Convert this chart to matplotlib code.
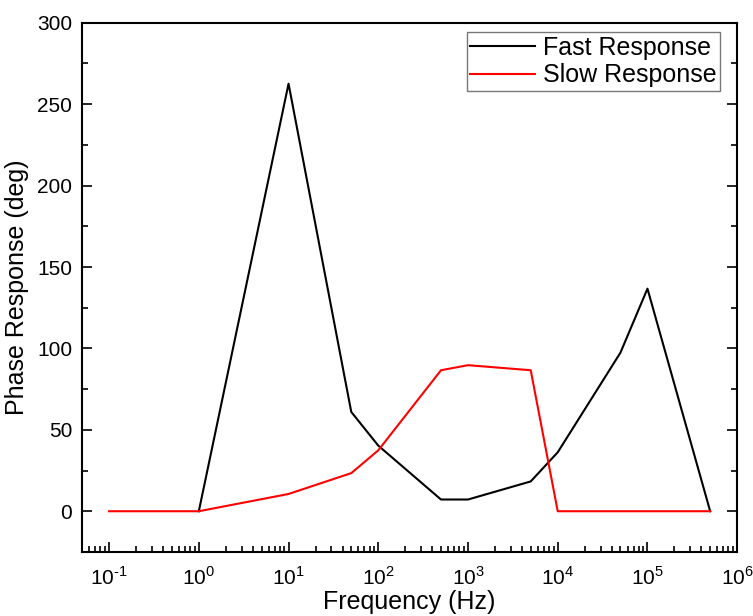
import matplotlib
matplotlib.use("Agg")
import matplotlib.pyplot as plt
from matplotlib.ticker import LogLocator, NullFormatter, MultipleLocator

plt.rcParams['font.family'] = ['Liberation Sans', 'DejaVu Sans']
plt.rcParams['mathtext.fontset'] = 'custom'
plt.rcParams['mathtext.rm'] = 'Liberation Sans'
plt.rcParams['axes.unicode_minus'] = False

fast_freq = [1, 10, 50, 100, 500, 1000, 5000, 1e4, 5e4, 1e5, 5e5]
fast_phase = [0, 262.6, 61, 40.3, 7.2, 7.2, 18.3, 36.2, 97.4, 136.7, 0]

slow_freq = [0.1, 1, 10, 50, 100, 500, 1000, 5000, 1e4, 5e4, 1e5, 5e5]
slow_phase = [0, 0, 10.6, 23.4, 37.4, 86.6, 89.7, 86.6, 0, 0, 0, 0]

x_major = [1e-1, 1e0, 1e1, 1e2, 1e3, 1e4, 1e5, 1e6]
x_labels = ['$10^{\\text{-}1}$', '$10^{0}$', '$10^{1}$', '$10^{2}$', '$10^{3}$',
            '$10^{4}$', '$10^{5}$', '$10^{6}$']

fig = plt.figure(figsize=(7.53, 6.16), dpi=100)
ax = fig.add_axes([0.109, 0.104, 0.870, 0.859])

ax.plot(fast_freq, fast_phase, color='black', lw=1.5, label='Fast Response')
ax.plot(slow_freq, slow_phase, color='red', lw=1.5, label='Slow Response')

ax.set_xscale('log')
ax.set_xlim(0.05, 1e6)
ax.set_ylim(-25, 300)

ax.set_xticks(x_major)
ax.set_xticklabels(x_labels)
ax.xaxis.set_minor_locator(LogLocator(base=10, subs=range(2, 10), numticks=20))
ax.xaxis.set_minor_formatter(NullFormatter())
ax.yaxis.set_major_locator(MultipleLocator(50))
ax.yaxis.set_minor_locator(MultipleLocator(25))

ax.tick_params(axis='both', which='major', direction='in', length=7.5, width=1.2,
               labelsize=15, pad=7)
ax.tick_params(axis='x', which='major', pad=10)
ax.tick_params(axis='both', which='minor', direction='in', length=4.5, width=1.2)
ax.tick_params(axis='y', which='both', left=True, right=True)
ax.tick_params(axis='x', which='both', bottom=True, top=False)

for s in ax.spines.values():
    s.set_linewidth(1.5)

ax.set_xlabel('Frequency (Hz)', fontsize=18, labelpad=1)
ax.set_ylabel('Phase Response (deg)', fontsize=18, labelpad=6)

leg = ax.legend(loc='upper right', bbox_to_anchor=(0.974, 0.983),
                fontsize=18, frameon=True, fancybox=False,
                borderpad=0.15, handlelength=2.6, handletextpad=0.3,
                labelspacing=0.15, borderaxespad=0.0, edgecolor='#555555')
leg.get_frame().set_linewidth(1.0)

fig.savefig('out.png', dpi=100)
